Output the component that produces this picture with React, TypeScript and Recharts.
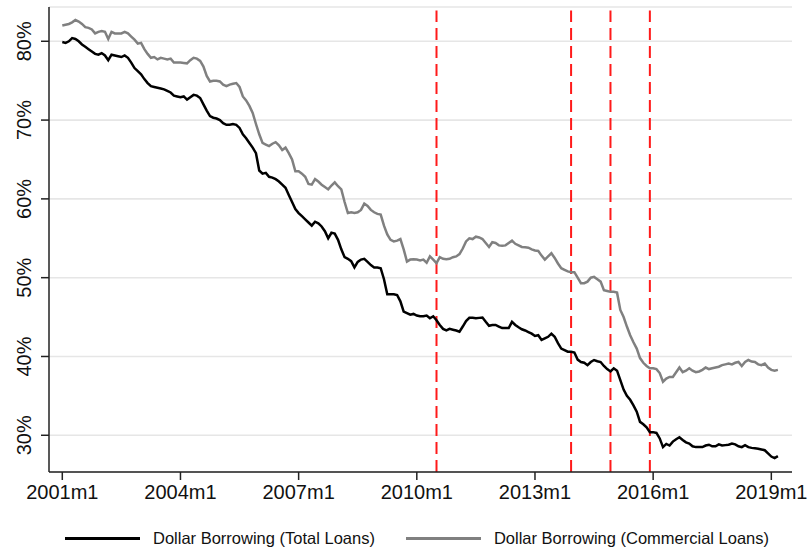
import React from "react";
import { LineChart, Line, XAxis, YAxis, CartesianGrid, ReferenceLine } from "recharts";

// monthly series, 2001m1 .. 2019m3 (one row per year)
const START_YEAR = 2001;

const TOTAL_LOANS = [
  79.9, 79.8, 80.0, 80.4, 80.3, 80.0, 79.6, 79.3, 79.0, 78.7, 78.4, 78.3,
  78.5, 78.2, 77.6, 78.3, 78.2, 78.1, 78.0, 78.2, 77.9, 77.3, 76.6, 76.2,
  75.8, 75.2, 74.7, 74.3, 74.2, 74.1, 74.0, 73.9, 73.7, 73.5, 73.1, 73.0,
  72.9, 73.0, 72.6, 72.9, 73.2, 73.1, 72.8, 72.0, 71.2, 70.5, 70.3, 70.2,
  70.0, 69.6, 69.4, 69.4, 69.5, 69.4, 69.0, 68.2, 67.7, 67.1, 66.5, 65.8,
  63.6, 63.2, 63.3, 62.8, 62.7, 62.5, 62.2, 61.8, 61.4, 60.5, 59.6, 58.7,
  58.2, 57.8, 57.4, 57.0, 56.6, 57.1, 56.9, 56.5, 55.9, 55.0, 55.7, 55.6,
  54.8, 53.6, 52.6, 52.4, 52.1, 51.3, 52.0, 52.3, 52.4, 52.0, 51.6, 51.3,
  51.3, 51.2, 49.8, 47.9, 47.9, 47.9, 47.8, 47.0, 45.7, 45.5, 45.3, 45.4,
  45.2, 45.1, 45.1, 45.2, 44.85, 45.1, 44.6, 44.0, 43.5, 43.3, 43.5, 43.4,
  43.3, 43.15, 43.8, 44.5, 44.9, 44.9, 44.85, 44.9, 44.95, 44.4, 43.9, 44.0,
  44.0, 43.8, 43.6, 43.6, 43.6, 44.4, 44.0, 43.7, 43.45, 43.3, 43.1, 42.9,
  42.6, 42.7, 42.1, 42.3, 42.5, 42.9, 42.5, 41.7, 41.0, 40.8, 40.6, 40.6,
  40.5, 39.6, 39.3, 39.2, 38.9, 39.3, 39.55, 39.4, 39.3, 38.8, 38.4, 38.1,
  38.5, 38.2, 37.0, 35.8, 35.0, 34.5, 33.8, 33.0, 31.7, 31.4, 31.0, 30.4,
  30.4, 30.3, 29.6, 28.5, 28.9, 28.7, 29.2, 29.5, 29.75, 29.4, 29.1, 28.95,
  28.6, 28.5, 28.5, 28.5, 28.7, 28.8, 28.6, 28.6, 28.85, 28.7, 28.75, 28.8,
  28.95, 28.85, 28.6, 28.5, 28.75, 28.5, 28.4, 28.35, 28.3, 28.2, 28.1, 27.7,
  27.3, 27.1, 27.35,
];

const COMMERCIAL_LOANS = [
  82.0, 82.1, 82.2, 82.4, 82.7, 82.5, 82.2, 81.8, 81.7, 81.5, 81.0, 81.2,
  81.3, 81.2, 80.3, 81.2, 81.0, 81.0, 81.0, 81.2, 81.0, 80.6, 80.2, 79.7,
  79.8, 79.0, 78.4, 77.9, 78.0, 77.7, 77.9, 77.8, 77.7, 77.8, 77.3, 77.3,
  77.3, 77.25, 77.2, 77.6, 77.9, 77.8, 77.5, 76.8, 75.6, 74.9, 75.0, 75.0,
  74.9, 74.5, 74.3, 74.5, 74.6, 74.7, 74.2, 73.0, 72.5, 71.8, 70.9, 69.5,
  68.2, 67.1, 66.9, 66.7, 67.0, 67.2, 66.8, 66.2, 66.5, 65.8, 65.0, 63.5,
  63.5, 63.2, 62.8, 61.9, 61.8, 62.5, 62.2, 61.8, 61.5, 61.2, 61.7, 62.1,
  61.6, 61.2, 59.6, 58.2, 58.3, 58.2, 58.3, 58.6, 59.4, 59.1, 58.6, 58.3,
  58.1, 58.0, 56.6, 55.5, 54.8, 54.6, 54.7, 54.9, 53.6, 52.05, 52.3, 52.35,
  52.3, 52.2, 52.3, 51.9, 52.7, 52.3, 51.85, 52.6, 52.4, 52.35, 52.4, 52.6,
  52.7, 53.0, 53.7, 54.6, 55.0, 54.9, 55.2, 55.1, 54.9, 54.4, 53.9, 54.5,
  54.4, 54.1, 54.05, 54.1, 54.4, 54.7, 54.3, 54.1, 53.9, 53.85, 53.8, 53.6,
  53.45, 53.4, 52.8, 52.3, 52.7, 53.1, 52.5, 51.8, 51.2, 51.0, 50.8, 50.7,
  50.7, 50.0, 49.3, 49.3, 49.5, 50.0, 50.1, 49.8, 49.5, 48.4, 48.3, 48.2,
  48.2, 48.1, 45.9, 45.0, 43.8, 42.7, 41.8, 41.0, 39.8, 39.2, 38.8, 38.5,
  38.5, 38.4, 37.9, 36.8, 37.2, 37.4, 37.4, 38.0, 38.6, 38.0, 38.2, 38.5,
  38.2, 38.0, 38.1, 38.3, 38.6, 38.4, 38.5, 38.6, 38.7, 38.9, 39.0, 39.1,
  39.0, 39.2, 39.3, 38.8, 39.3, 39.55, 39.35, 39.3, 39.0, 38.9, 39.1, 38.6,
  38.3, 38.2, 38.3,
];

const X_TICK_LABELS = ["2001m1", "2004m1", "2007m1", "2010m1", "2013m1", "2016m1", "2019m1"];
const Y_TICKS = [30, 40, 50, 60, 70, 80];
const EVENT_MONTHS = ["2010m7", "2013m12", "2014m12", "2015m12"];

const FONT = '"Liberation Sans", Arial, Helvetica, sans-serif';

const toIndex = (label: string) => {
  const [y, m] = label.split("m").map(Number);
  return (y - START_YEAR) * 12 + (m - 1);
};
const toLabel = (i: number) => `${START_YEAR + Math.floor(i / 12)}m${(i % 12) + 1}`;

const data = TOTAL_LOANS.map((v, i) => ({
  t: i,
  total: v,
  commercial: COMMERCIAL_LOANS[i],
}));

const Y_MIN = 25.34;
const Y_MAX = 84.35;
const RED_TOP = 83.9;

const YTick = ({ x, y, payload }: any) => (
  <text
    x={x - 7.5}
    y={y}
    transform={`rotate(-90, ${x - 7.5}, ${y})`}
    textAnchor="middle"
    fontSize={20}
    fontFamily={FONT}
    fill="#111"
  >
    {payload.value}%
  </text>
);

export default function App() {
  return (
    <div style={{ position: "absolute", left: 0, top: 0, width: 811, height: 552, background: "#fff" }}>
      <LineChart width={811} height={552} data={data} margin={{ top: 7, right: 19, bottom: 0, left: 0 }}>
        <CartesianGrid horizontal vertical={false} stroke="#e6e6e6" strokeWidth={1.6} />
        <XAxis
          dataKey="t"
          type="number"
          domain={[-4.05, 222.3]}
          ticks={X_TICK_LABELS.map(toIndex)}
          tickFormatter={toLabel}
          height={80}
          tickSize={8}
          tickMargin={5}
          stroke="#222"
          strokeWidth={1.5}
          tick={{ fill: "#111", fontSize: 20, fontFamily: FONT }}
          allowDataOverflow
        />
        <YAxis
          type="number"
          domain={[Y_MIN, Y_MAX]}
          ticks={Y_TICKS}
          width={49}
          tickSize={8}
          tickMargin={2}
          stroke="#222"
          strokeWidth={1.5}
          tick={<YTick />}
          allowDataOverflow
        />
        {EVENT_MONTHS.map((m) => (
          <ReferenceLine
            key={m}
            segment={[
              { x: toIndex(m), y: Y_MIN },
              { x: toIndex(m), y: RED_TOP },
            ]}
            stroke="#ff1a1a"
            strokeWidth={2}
            strokeDasharray="12 6"
          />
        ))}
        <Line
          dataKey="commercial"
          stroke="#808080"
          strokeWidth={2.5}
          dot={false}
          isAnimationActive={false}
        />
        <Line
          dataKey="total"
          stroke="#000"
          strokeWidth={2.5}
          dot={false}
          isAnimationActive={false}
        />
      </LineChart>

      {/* legend drawn by hand below the axis */}
      <div
        style={{
          position: "absolute",
          top: 528,
          left: 65,
          display: "flex",
          alignItems: "center",
          fontFamily: FONT,
          fontSize: 16.5,
          color: "#111",
          lineHeight: "20px",
          whiteSpace: "nowrap",
        }}
      >
        <span style={{ width: 75, height: 3, background: "#000", display: "inline-block" }} />
        <span style={{ marginLeft: 13 }}>Dollar Borrowing (Total Loans)</span>
        <span style={{ width: 75, height: 3, background: "#808080", display: "inline-block", marginLeft: 31 }} />
        <span style={{ marginLeft: 13 }}>Dollar Borrowing (Commercial Loans)</span>
      </div>
    </div>
  );
}
